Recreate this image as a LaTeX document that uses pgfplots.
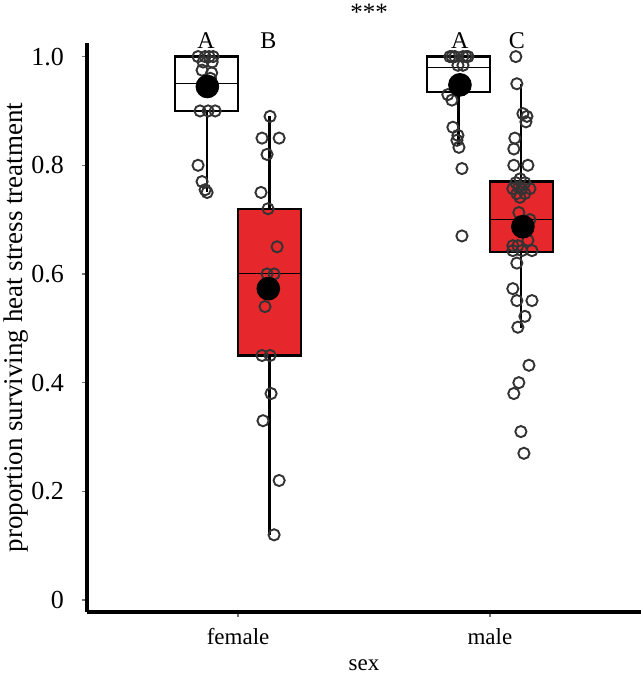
\documentclass[border=0pt]{standalone}
\usepackage{fontspec}
\setmainfont{Liberation Serif}
\usepackage{pgfplots}
\pgfplotsset{compat=1.18}
\usepgfplotslibrary{statistics}
\definecolor{boxred}{RGB}{230,40,44}
\begin{document}
\begin{tikzpicture}[font=\fontsize{11}{13}\selectfont]
\path[use as bounding box] (0,0) rectangle (321.5pt,346.5pt);
\begin{axis}[
  at={(43.5pt,40.5pt)}, anchor=south west,
  scale only axis, width=277pt, height=284.5pt,
  xmin=0.4, xmax=2.6, ymin=-0.022, ymax=1.025,
  axis x line*=bottom, axis y line*=left,
  axis line style={line width=2pt, black},
  xtick={1,2}, xticklabels={female,male},
  ytick={0,0.2,0.4,0.6,0.8,1.0}, yticklabels={0,0.2,0.4,0.6,0.8,1.0},
  tick align=outside, major tick length=2.5pt,
  tick style={line width=0.7pt, color=black!55},
  xticklabel style={yshift=-2pt, font=\fontsize{11.5}{13}\selectfont},
  yticklabel style={xshift=-5.5pt, font=\fontsize{13}{15}\selectfont},
  xlabel={sex}, ylabel={proportion surviving heat stress treatment},
  xlabel style={at={(axis description cs:0.5,-0.093)}, anchor=center, font=\fontsize{11.5}{13}\selectfont},
  ylabel style={at={(axis description cs:-0.128,0.5)}, anchor=center, font=\fontsize{13.5}{16}\selectfont},
  clip=false,
  boxplot/draw direction=y,
  boxplot/whisker extend=0,
  boxplot/every whisker/.style={line width=1.1pt},
  boxplot/every median/.style={line width=0.5pt},
  boxplot/every box/.style={line width=1.1pt},
]
% boxes
\addplot[draw=black, fill=white, boxplot prepared={draw position=0.875, lower whisker=0.75, lower quartile=0.90, median=0.95, upper quartile=1.0, upper whisker=1.0, box extend=0.25}] coordinates {};
\addplot[draw=black, fill=boxred, boxplot prepared={draw position=1.125, lower whisker=0.12, lower quartile=0.45, median=0.60, upper quartile=0.72, upper whisker=0.89, box extend=0.25}] coordinates {};
\addplot[draw=black, fill=white, boxplot prepared={draw position=1.875, lower whisker=0.835, lower quartile=0.935, median=0.98, upper quartile=1.0, upper whisker=1.0, box extend=0.25}] coordinates {};
\addplot[draw=black, fill=boxred, boxplot prepared={draw position=2.125, lower whisker=0.50, lower quartile=0.64, median=0.70, upper quartile=0.77, upper whisker=0.95, box extend=0.25}] coordinates {};
% jittered points
\addplot[only marks, mark=o, mark size=2.8pt, mark options={line width=0.95pt, draw=black!80}] coordinates {
(0.841,1.0) (0.869,1.0) (0.901,1.0) (0.885,1.0)
(0.861,0.99) (0.897,0.99) (0.857,0.975) (0.895,0.97)
(0.87,0.95) (0.89,0.96)
(0.849,0.9) (0.881,0.9) (0.909,0.9)
(0.841,0.80) (0.857,0.77) (0.869,0.755) (0.877,0.75)
};
\addplot[only marks, mark=o, mark size=2.8pt, mark options={line width=0.95pt, draw=black!80}] coordinates {
(1.127,0.89) (1.095,0.85) (1.163,0.85) (1.115,0.82) (1.091,0.75) (1.119,0.72)
(1.155,0.65) (1.115,0.60) (1.143,0.60) (1.107,0.54) (1.095,0.45) (1.127,0.45)
(1.131,0.38) (1.099,0.33) (1.163,0.22) (1.143,0.12)
};
\addplot[only marks, mark=o, mark size=2.8pt, mark options={line width=0.95pt, draw=black!80}] coordinates {
(1.841,1.0) (1.861,1.0) (1.893,1.0) (1.913,1.0) (1.85,1.0) (1.905,1.0)
(1.873,0.984) (1.893,0.984)
(1.88,0.955) (1.865,0.945)
(1.833,0.93) (1.849,0.92)
(1.853,0.87) (1.873,0.855) (1.869,0.846) (1.877,0.833) (1.889,0.794) (1.889,0.67)
};
\addplot[only marks, mark=o, mark size=2.8pt, mark options={line width=0.95pt, draw=black!80}] coordinates {
(2.103,1.0) (2.107,0.95) (2.147,0.89) (2.131,0.895) (2.143,0.88) (2.099,0.85)
(2.095,0.83) (2.095,0.80) (2.151,0.80)
(2.103,0.768) (2.139,0.768) (2.091,0.757) (2.127,0.757) (2.159,0.757)
(2.107,0.748) (2.139,0.748) (2.119,0.741) (2.12,0.775) (2.115,0.76)
(2.115,0.713) (2.159,0.70) (2.151,0.662) (2.091,0.652) (2.111,0.652)
(2.091,0.643) (2.127,0.643) (2.167,0.643) (2.107,0.62) (2.091,0.573)
(2.107,0.551) (2.167,0.551) (2.139,0.522) (2.111,0.502)
(2.155,0.432) (2.115,0.40) (2.095,0.38) (2.123,0.31) (2.135,0.27)
};
% means
\addplot[only marks, mark=*, mark size=5.7pt, black] coordinates {
(0.878,0.945) (1.12,0.573) (1.881,0.948) (2.131,0.687)
};
% annotations
\node[font=\fontsize{12.5}{14}\selectfont] at (axis cs:1.52,1.082) {***};
\node[font=\fontsize{12}{14}\selectfont] at (axis cs:0.873,1.03) {A};
\node[font=\fontsize{12}{14}\selectfont] at (axis cs:1.12,1.03) {B};
\node[font=\fontsize{12}{14}\selectfont] at (axis cs:1.88,1.03) {A};
\node[font=\fontsize{12}{14}\selectfont] at (axis cs:2.107,1.03) {C};
\end{axis}
\end{tikzpicture}
\end{document}
